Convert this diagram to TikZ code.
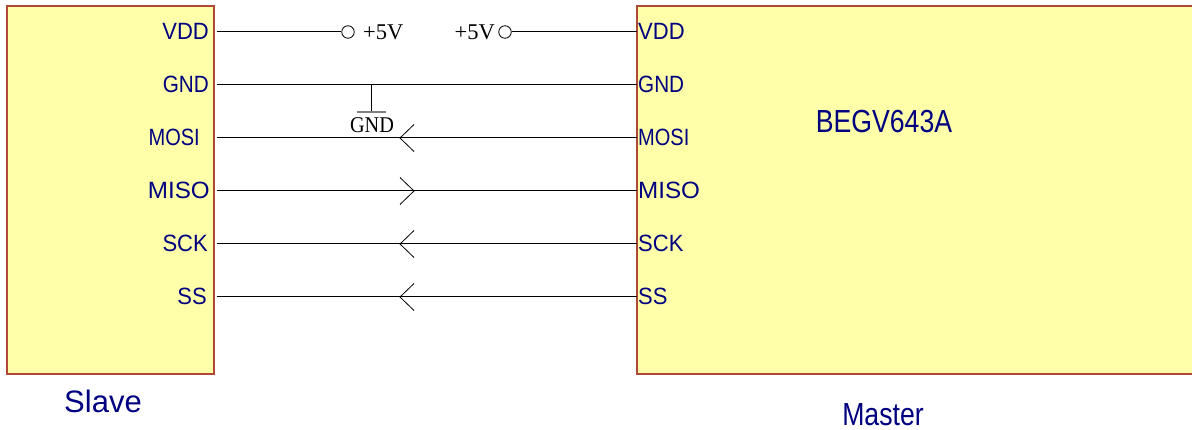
\documentclass[tikz,border=0pt]{standalone}
\usepackage{fontspec}
\setmainfont{Liberation Serif}
\newfontfamily\arialfont{Liberation Sans}
\definecolor{boxfill}{HTML}{FFFFAA}
\definecolor{boxline}{HTML}{B04838}
\definecolor{pintext}{HTML}{000080}
\newcommand{\pinl}[2]{\scalebox{#1}[1.07]{#2}}
\begin{document}
\begin{tikzpicture}[x=1pt,y=-1pt,
  chip/.style={draw=boxline, line width=1.5pt, fill=boxfill, anchor=north west, inner sep=0pt, outer sep=0pt, minimum height=368pt},
  pinlbl/.style={text=pintext, font=\arialfont\fontsize{22}{22}\selectfont, inner sep=0pt},
  biglbl/.style={text=pintext, font=\arialfont\fontsize{31}{31}\selectfont, inner sep=0pt, anchor=base},
  seriflbl/.style={font=\fontsize{22.5}{22.5}\selectfont, inner sep=0pt},
  wire/.style={draw=black, line width=1pt},
  term/.style={circle, draw=black, line width=0.8pt, fill=white, minimum size=12.5pt, inner sep=0pt},
  gndbar/.style={draw=gray, line width=2pt},
  chev/.style={draw=black, line width=0.8pt}
]
\path[use as bounding box, clip] (0,0) rectangle (1192,430);
\fill[white] (0,0) rectangle (1192,430);

% chips
\node[chip, minimum width=207pt] (slave) at (7,6) {};
\node[chip, minimum width=600pt] (master) at (637,6) {};

% pin coordinates
\foreach \n/\y in {VDD/32, GND/85, MOSI/138, MISO/191, SCK/244, SS/297}{
  \coordinate (s\n) at (217,\y);
  \coordinate (m\n) at (637,\y);
}

% slave labels
\node[pinlbl, anchor=base east] (lsVDD) at (209,40) {\pinl{1}{VDD}};
\node[pinlbl, anchor=base east] (lsGND) at (209,93) {\pinl{0.94}{GND}};
\node[pinlbl, anchor=base east] (lsMOSI) at (200,146) {\pinl{0.91}{MOSI}};
\node[pinlbl, anchor=base east] (lsMISO) at (210,199) {\pinl{1.1}{MISO}};
\node[pinlbl, anchor=base east] (lsSCK) at (208,252) {\pinl{1}{SCK}};
\node[pinlbl, anchor=base east] (lsSS) at (207,305) {\pinl{1}{SS}};

% master labels
\node[pinlbl, anchor=base west] (lmVDD) at (638,40) {\pinl{1}{VDD}};
\node[pinlbl, anchor=base west] (lmGND) at (638,93) {\pinl{0.94}{GND}};
\node[pinlbl, anchor=base west] (lmMOSI) at (638,146) {\pinl{0.91}{MOSI}};
\node[pinlbl, anchor=base west] (lmMISO) at (638,199) {\pinl{1.1}{MISO}};
\node[pinlbl, anchor=base west] (lmSCK) at (638,252) {\pinl{1}{SCK}};
\node[pinlbl, anchor=base west] (lmSS) at (638,305) {\pinl{1}{SS}};

% titles
\node[biglbl] (chipname) at (884,133) {\scalebox{0.86}[1.03]{BEGV643A}};
\node[biglbl] (slavename) at (103,412) {Slave};
\node[biglbl] (mastername) at (883,425) {\scalebox{0.86}[1.03]{Master}};

% VDD terminals
\node[term] (t1) at (348,32) {};
\node[term] (t2) at (505,32) {};
\node[seriflbl, anchor=base west] (v1) at (363,39.5) {+5V};
\node[seriflbl, anchor=base east] (v2) at (495,39.5) {+5V};
\draw[wire] (sVDD) -- (t1.west);
\draw[wire] (t2.east) -- (mVDD);

% GND
\draw[wire] (sGND) -- (mGND);
\coordinate (gtap) at (371.5,85);
\coordinate (gbar) at (371.5,112);
\draw[wire] (gtap) -- (gbar);
\draw[gndbar] ([xshift=-14.5pt]gbar) -- ([xshift=14.5pt]gbar);
\node[seriflbl, anchor=base] (gndlbl) at (372,133) {\scalebox{0.9}[1]{\fontsize{22.5}{22.5}\selectfont GND}};

% signal wires
\foreach \n in {MOSI, MISO, SCK, SS}{
  \draw[wire] (s\n) -- (m\n);
}

% direction chevrons
\coordinate (aMOSI) at (400,138);
\coordinate (aSCK) at (400,244);
\coordinate (aSS) at (400,297);
\foreach \n in {MOSI, SCK, SS}{
  \draw[chev] ([shift={(14,-13.5)}]a\n) -- (a\n) -- ([shift={(14,13.5)}]a\n);
}
\coordinate (aMISO) at (414,191);
\draw[chev] ([shift={(-14,-13.5)}]aMISO) -- (aMISO) -- ([shift={(-14,13.5)}]aMISO);
\end{tikzpicture}
\end{document}
